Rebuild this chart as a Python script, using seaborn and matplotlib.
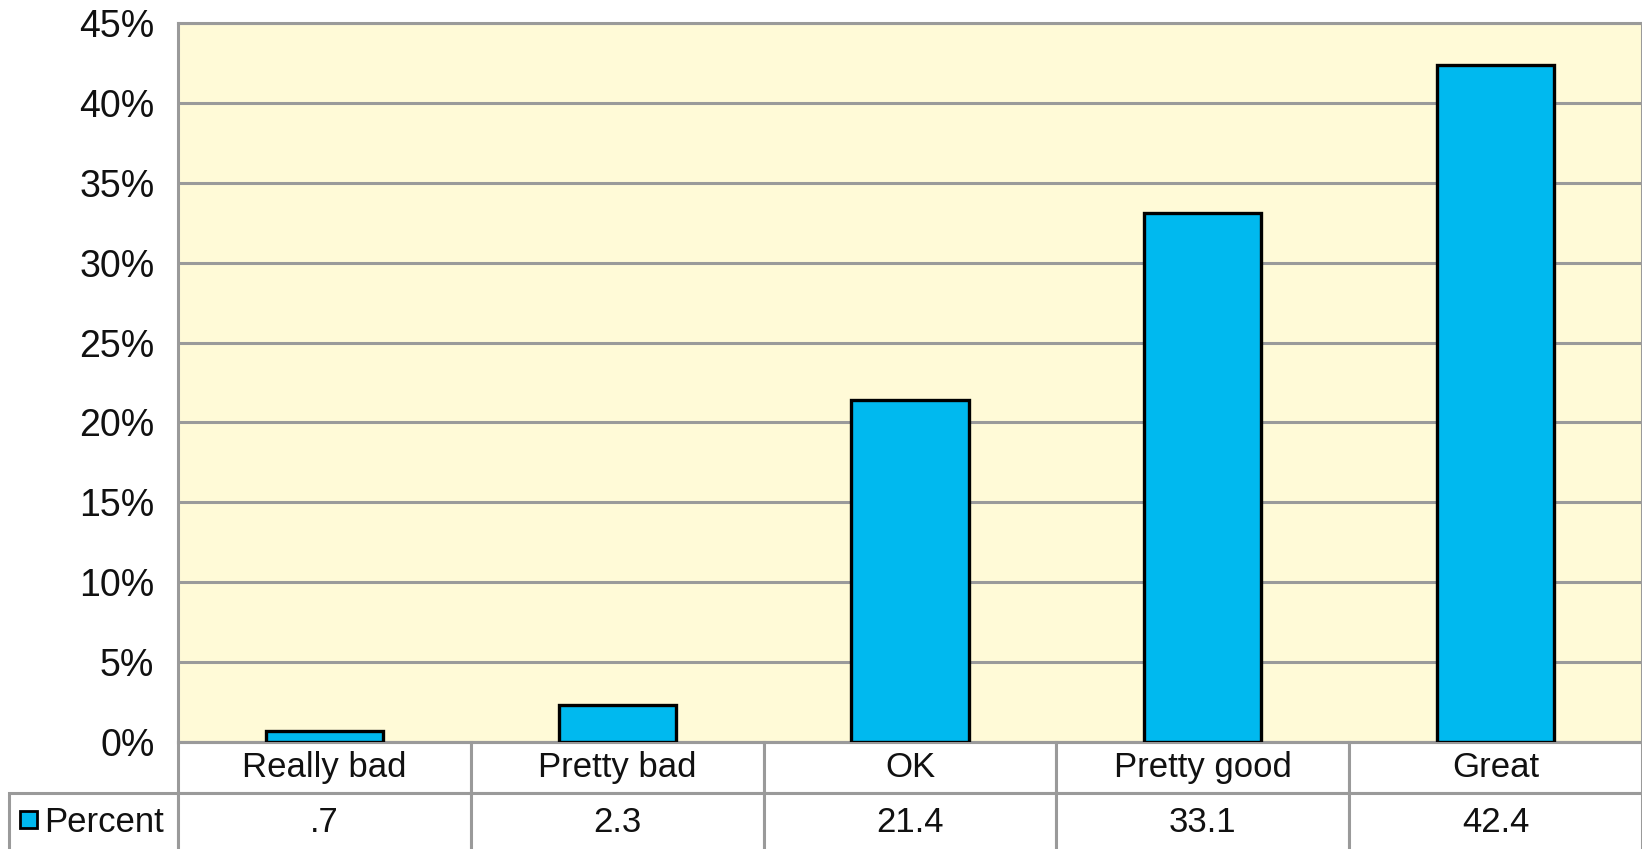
import matplotlib
matplotlib.use("Agg")
import matplotlib.pyplot as plt
import seaborn as sns
from matplotlib.ticker import PercentFormatter
from matplotlib.patches import Rectangle

categories = ['Really bad', 'Pretty bad', 'OK', 'Pretty good', 'Great']
percent = [0.7, 2.3, 21.4, 33.1, 42.4]
series_name = 'Percent'
yticks = [0, 5, 10, 15, 20, 25, 30, 35, 40, 45]

bar_color = '#00b9ef'
bg_color = '#fffad7'
grid_color = '#9a9a9a'

sns.set_style('white')
plt.rcParams['font.family'] = ['Liberation Sans', 'DejaVu Sans']

fig = plt.figure(figsize=(16.42, 8.49), dpi=100)
ax = fig.add_axes([178 / 1642, 107 / 849, 1464 / 1642, 719 / 849])
ax.set_facecolor(bg_color)

sns.barplot(x=categories, y=percent, color=bar_color, saturation=1,
            edgecolor='black', linewidth=2.4, width=0.4, ax=ax, zorder=3)

ax.set_ylim(0, 45)
ax.set_xlim(-0.5, 4.5)
ax.set_yticks(yticks)
ax.yaxis.set_major_formatter(PercentFormatter(decimals=0))
ax.yaxis.grid(True, color=grid_color, linewidth=2.2, zorder=0)
ax.set_axisbelow(True)
ax.tick_params(axis='y', length=0, labelsize=27, pad=17, labelcolor='#111111')
ax.tick_params(axis='x', length=0, labelbottom=False)
ax.set_xlabel('')
ax.set_ylabel('')
for s in ax.spines.values():
    s.set_color(grid_color)
    s.set_linewidth(2.2)

# data table under the chart (first column holds the series name)
values_txt = [('%g' % v).lstrip('0') if v < 1 else '%g' % v for v in percent]
label_w = 169 / 1464
h_head, h_row = 51 / 719, 60 / 719
tab = ax.table(cellText=[[series_name] + values_txt], colLabels=[''] + categories,
               colWidths=[label_w] + [1 / len(categories)] * len(categories),
               cellLoc='center',
               bbox=[-label_w, -(h_head + h_row), 1 + label_w, h_head + h_row])
tab.auto_set_font_size(False)
tab.set_fontsize(25)
for (r, c), cell in tab.get_celld().items():
    cell.set_edgecolor(grid_color)
    cell.set_linewidth(2.2)
    cell.set_facecolor('white')
    cell.set_height(h_head if r == 0 else h_row)
    if r == 1:
        cell.visible_edges = 'LTR'
    if r == 0 and c == 0:
        cell.visible_edges = 'open'
        cell.set_facecolor('none')
    if r == 1 and c == 0:
        cell.get_text().set_horizontalalignment('left')
        cell._loc = 'left'
        cell.PAD = 0.21
    cell.get_text().set_color('#111111')

# legend key in the row label
fig.patches.append(Rectangle((20 / 1642, 21 / 849), 17 / 1642, 17 / 849,
                             transform=fig.transFigure, facecolor=bar_color,
                             edgecolor='black', linewidth=2))

fig.savefig('out.png', dpi=100)
